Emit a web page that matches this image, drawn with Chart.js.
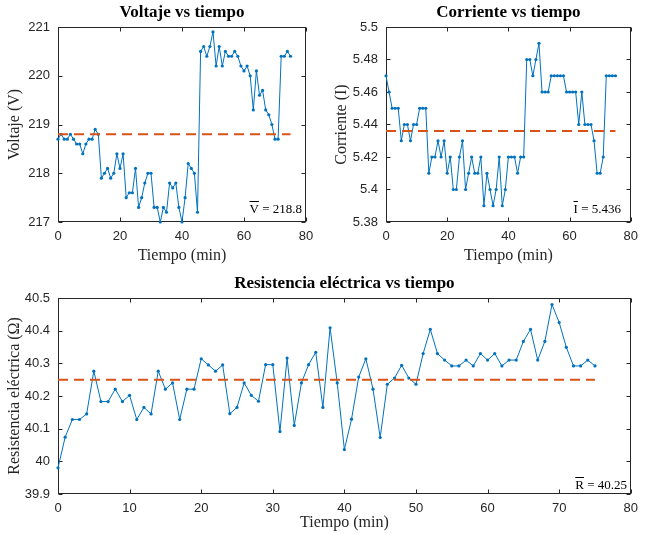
<!DOCTYPE html>
<html>
<head>
<meta charset="utf-8">
<script src="https://cdn.jsdelivr.net/npm/chart.js@4.4.1/dist/chart.umd.min.js"></script>
<style>
  body { margin: 0; background: #fff; width: 645px; height: 534px; position: relative; overflow: hidden; }
  canvas { position: absolute; left: 0; top: 0; }
</style>
</head>
<body>
<canvas id="chart-v" width="645" height="534"></canvas>
<canvas id="chart-i" width="645" height="534"></canvas>
<canvas id="chart-r" width="645" height="534"></canvas>
<script>
// tiempo (min), una medida por minuto
const TIEMPO = [0, 1, 2, 3, 4, 5, 6, 7, 8, 9, 10, 11, 12, 13, 14, 15, 16, 17, 18, 19,
  20, 21, 22, 23, 24, 25, 26, 27, 28, 29, 30, 31, 32, 33, 34, 35, 36, 37, 38, 39,
  40, 41, 42, 43, 44, 45, 46, 47, 48, 49, 50, 51, 52, 53, 54, 55, 56, 57, 58, 59,
  60, 61, 62, 63, 64, 65, 66, 67, 68, 69, 70, 71, 72, 73, 74, 75];

const VOLTAJE = [218.7, 218.8, 218.7, 218.7, 218.8, 218.7, 218.6, 218.6, 218.4, 218.6,
  218.7, 218.7, 218.9, 218.8, 217.9, 218.0, 218.1, 217.9, 218.0, 218.4,
  218.1, 218.4, 217.5, 217.6, 217.6, 218.1, 217.3, 217.5, 217.8, 218.0,
  218.0, 217.3, 217.3, 217.0, 217.3, 217.2, 217.8, 217.7, 217.8, 217.3,
  217.0, 217.5, 218.2, 218.1, 218.0, 217.2, 220.5, 220.6, 220.4, 220.6,
  220.9, 220.2, 220.6, 220.2, 220.5, 220.4, 220.4, 220.5, 220.4, 220.2,
  220.1, 220.2, 220.0, 219.3, 220.1, 219.6, 219.7, 219.3, 219.2, 219.0,
  218.7, 218.7, 220.4, 220.4, 220.5, 220.4];

const CORRIENTE = [5.47, 5.46, 5.45, 5.45, 5.45, 5.43, 5.44, 5.44, 5.43, 5.44,
  5.44, 5.45, 5.45, 5.45, 5.41, 5.42, 5.42, 5.43, 5.42, 5.43,
  5.41, 5.42, 5.40, 5.40, 5.42, 5.43, 5.40, 5.41, 5.42, 5.41,
  5.41, 5.42, 5.39, 5.41, 5.40, 5.39, 5.40, 5.42, 5.39, 5.40,
  5.42, 5.42, 5.42, 5.41, 5.42, 5.42, 5.48, 5.48, 5.47, 5.48,
  5.49, 5.46, 5.46, 5.46, 5.47, 5.47, 5.47, 5.47, 5.47, 5.46,
  5.46, 5.46, 5.46, 5.44, 5.46, 5.44, 5.44, 5.44, 5.43, 5.41,
  5.41, 5.42, 5.47, 5.47, 5.47, 5.47];

const RESISTENCIA = [39.98, 40.074, 40.128, 40.128, 40.145, 40.276, 40.183, 40.183, 40.221, 40.183,
  40.202, 40.128, 40.165, 40.145, 40.276, 40.221, 40.24, 40.128, 40.221, 40.221,
  40.314, 40.295, 40.276, 40.295, 40.146, 40.165, 40.24, 40.202, 40.184, 40.296,
  40.296, 40.091, 40.316, 40.11, 40.24, 40.296, 40.334, 40.165, 40.409, 40.24,
  40.036, 40.129, 40.258, 40.314, 40.221, 40.073, 40.236, 40.255, 40.294, 40.255,
  40.236, 40.33, 40.404, 40.33, 40.31, 40.292, 40.292, 40.31, 40.292, 40.33,
  40.31, 40.33, 40.292, 40.31, 40.31, 40.367, 40.404, 40.31, 40.367, 40.48,
  40.425, 40.349, 40.292, 40.292, 40.31, 40.292];

const MEDIA_V = 218.8;
const MEDIA_I = 5.436;
const MEDIA_R = 40.25;

const TICKS_T_ARRIBA = [0, 20, 40, 60, 80];
const TICKS_T_ABAJO = [0, 10, 20, 30, 40, 50, 60, 70, 80];
const TICKS_V = [217, 218, 219, 220, 221];
const TICKS_I = [5.38, 5.4, 5.42, 5.44, 5.46, 5.48, 5.5];
const TICKS_R = [39.9, 40, 40.1, 40.2, 40.3, 40.4, 40.5];

const AZUL = "#0072BD";
const NARANJA = "#D95319";
const EJE = "#262626";
const W = 645, H = 534;
const TICK_LEN = 4;

function fmt(v) {
    return String(Math.round(v * 1000) / 1000);
}

function serie(ys) {
    return TIEMPO.map((t, i) => ({ x: t, y: ys[i] }));
}

function decoPlugin(p) {
    return {
        id: "deco",
        beforeDatasetsDraw(chart) {
            const ctx = chart.ctx, a = chart.chartArea;
            const sx = chart.scales.x, sy = chart.scales.y;
            ctx.save();
            ctx.strokeStyle = EJE;
            ctx.lineWidth = 1;
            const l = Math.round(a.left) + 0.5, r = Math.round(a.right) - 0.5;
            const t = Math.round(a.top) + 0.5, b = Math.round(a.bottom) - 0.5;
            ctx.strokeRect(l, t, r - l, b - t);
            ctx.beginPath();
            p.xTicks.forEach(v => {
                const x = Math.round(sx.getPixelForValue(v)) + 0.5;
                ctx.moveTo(x, b); ctx.lineTo(x, b - TICK_LEN);
                ctx.moveTo(x, t); ctx.lineTo(x, t + TICK_LEN);
            });
            p.yTicks.forEach(v => {
                const y = Math.round(sy.getPixelForValue(v)) + 0.5;
                ctx.moveTo(l, y); ctx.lineTo(l + TICK_LEN, y);
                ctx.moveTo(r, y); ctx.lineTo(r - TICK_LEN, y);
            });
            ctx.stroke();
            ctx.restore();
        },
        afterDraw(chart) {
            const ctx = chart.ctx, a = chart.chartArea;
            const cx = (a.left + a.right) / 2, cy = (a.top + a.bottom) / 2;
            ctx.save();
            ctx.fillStyle = "#000";
            ctx.textAlign = "center";
            ctx.textBaseline = "alphabetic";
            // titulo
            ctx.font = "bold 17px 'Liberation Serif'";
            ctx.fillText(p.title, cx, a.top - 10);
            // etiqueta x
            ctx.fillStyle = EJE;
            ctx.font = "16px 'Liberation Serif'";
            ctx.fillText("Tiempo (min)", cx, a.bottom + p.xLabelOff);
            // etiqueta y
            ctx.save();
            ctx.translate(p.yLabelX, cy);
            ctx.rotate(-Math.PI / 2);
            ctx.textBaseline = "middle";
            ctx.fillText(p.yLabel, 0, 0);
            ctx.restore();
            // media
            ctx.fillStyle = "#000";
            ctx.font = "13px 'Liberation Serif'";
            ctx.textAlign = "left";
            const txt = p.sym + " = " + p.meanText;
            const wTot = ctx.measureText(txt).width;
            const x0 = p.noteRight - wTot;
            ctx.fillText(txt, x0, p.noteBase);
            const ws = ctx.measureText(p.sym).width;
            ctx.strokeStyle = "#000";
            ctx.lineWidth = 1;
            ctx.beginPath();
            ctx.moveTo(x0, p.noteBase - 11.5);
            ctx.lineTo(x0 + ws, p.noteBase - 11.5);
            ctx.stroke();
            ctx.restore();
        }
    };
}

function makeChart(id, p) {
    const AXIS_W = 40, AXIS_H = 30;
    const ctx = document.getElementById(id).getContext("2d");
    return new Chart(ctx, {
        type: "line",
        data: {
            datasets: [
                {
                    data: [{ x: TIEMPO[0], y: p.mean }, { x: TIEMPO[TIEMPO.length - 1], y: p.mean }],
                    borderColor: NARANJA,
                    borderWidth: 2,
                    borderDash: [10, 6],
                    pointRadius: 0,
                    clip: false
                },
                {
                    data: serie(p.values),
                    borderColor: AZUL,
                    backgroundColor: AZUL,
                    borderWidth: 1,
                    pointRadius: 1.6,
                    pointBorderWidth: 0,
                    pointBackgroundColor: AZUL,
                    tension: 0,
                    clip: false
                }
            ]
        },
        options: {
            responsive: false,
            maintainAspectRatio: false,
            devicePixelRatio: 1,
            animation: false,
            events: [],
            layout: {
                padding: {
                    left: p.box.left - AXIS_W,
                    top: p.box.top,
                    right: W - (p.box.left + p.box.width),
                    bottom: H - (p.box.top + p.box.height) - AXIS_H
                }
            },
            plugins: { legend: { display: false }, tooltip: { enabled: false }, title: { display: false } },
            scales: {
                x: {
                    type: "linear",
                    min: 0, max: 80,
                    grid: { display: false, drawTicks: false },
                    border: { display: false },
                    afterBuildTicks: s => { s.ticks = p.xTicks.map(v => ({ value: v })); },
                    afterFit: s => { s.height = AXIS_H; },
                    ticks: {
                        autoSkip: false, maxRotation: 0, padding: 7, color: EJE,
                        font: { family: "'Liberation Sans'", size: 13 },
                        callback: v => fmt(v)
                    }
                },
                y: {
                    type: "linear",
                    min: p.yTicks[0], max: p.yTicks[p.yTicks.length - 1],
                    grid: { display: false, drawTicks: false },
                    border: { display: false },
                    afterBuildTicks: s => { s.ticks = p.yTicks.map(v => ({ value: v })); },
                    afterFit: s => { s.width = AXIS_W; },
                    ticks: {
                        autoSkip: false, padding: 8, color: EJE,
                        font: { family: "'Liberation Sans'", size: 13 },
                        callback: v => fmt(v)
                    }
                }
            }
        },
        plugins: [decoPlugin(p)]
    });
}

makeChart("chart-v", {
    box: { left: 58, top: 27, width: 248, height: 195 },
    values: VOLTAJE, mean: MEDIA_V,
    xTicks: TICKS_T_ARRIBA, yTicks: TICKS_V,
    title: "Voltaje vs tiempo", yLabel: "Voltaje (V)", yLabelX: 15, xLabelOff: 38,
    sym: "V", meanText: "218.8", noteRight: 302, noteBase: 213
});

makeChart("chart-i", {
    box: { left: 386, top: 27, width: 248, height: 195 },
    values: CORRIENTE, mean: MEDIA_I,
    xTicks: TICKS_T_ARRIBA, yTicks: TICKS_I,
    title: "Corriente vs tiempo", yLabel: "Corriente (I)", yLabelX: 342, xLabelOff: 38,
    sym: "I", meanText: "5.436", noteRight: 621, noteBase: 213
});

makeChart("chart-r", {
    box: { left: 58, top: 298, width: 578, height: 196 },
    values: RESISTENCIA, mean: MEDIA_R,
    xTicks: TICKS_T_ABAJO, yTicks: TICKS_R,
    title: "Resistencia eléctrica vs tiempo", yLabel: "Resistencia eléctrica (Ω)", yLabelX: 15, xLabelOff: 33,
    sym: "R", meanText: "40.25", noteRight: 627, noteBase: 489
});
</script>
</body>
</html>
